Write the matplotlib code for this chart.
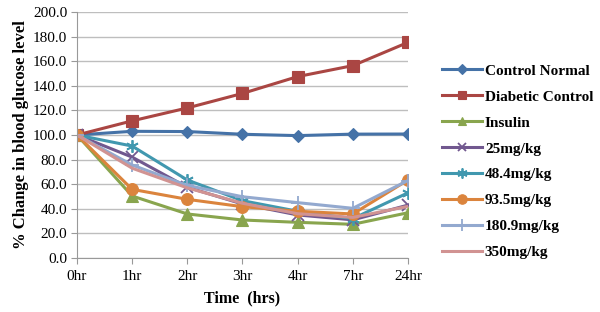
import matplotlib
matplotlib.use("Agg")
import matplotlib.pyplot as plt
import numpy as np

times = ["0hr", "1hr", "2hr", "3hr", "4hr", "7hr", "24hr"]
control_normal = [100, 103.0, 102.8, 100.6, 99.5, 100.7, 100.8]
diabetic_control = [100, 111.5, 122.0, 133.8, 147.5, 156.4, 175.3]
insulin = [100, 50.4, 35.8, 30.9, 29.0, 27.4, 36.8]
mg25 = [100, 82.0, 57.5, 43.9, 35.0, 31.0, 43.0]
mg48_4 = [100, 91.0, 63.4, 46.6, 38.0, 32.0, 53.0]
mg93_5 = [100, 55.8, 47.7, 41.7, 38.0, 35.8, 63.4]
mg180_9 = [100, 75.6, 59.0, 49.8, 45.0, 40.4, 63.0]
mg350 = [100, 73.0, 57.0, 44.5, 36.0, 33.0, 42.0]

series = [
    ("Control Normal", control_normal, "#4572A7", "D", 6.5),
    ("Diabetic Control", diabetic_control, "#AA4643", "s", 8),
    ("Insulin", insulin, "#89A54E", "^", 8),
    ("25mg/kg", mg25, "#71588F", "x", 8),
    ("48.4mg/kg", mg48_4, "#4198AF", (6, 2, 0), 9),
    ("93.5mg/kg", mg93_5, "#DB843D", "o", 8.5),
    ("180.9mg/kg", mg180_9, "#93A9CF", "+", 10),
    ("350mg/kg", mg350, "#D19392", "None", 0),
]

plt.rcParams['font.family'] = ['Liberation Serif', 'DejaVu Serif']

fig = plt.figure(figsize=(6, 3.12), dpi=100)
ax = fig.add_axes([77/600, 1-258/312, (408-77)/600, (258-12)/312])

x = np.arange(len(times))
for name, vals, col, mk, ms in series:
    ax.plot(x, vals, color=col, lw=2.2, marker=mk, markersize=ms,
            markeredgewidth=1.3 if mk in ("x", "+", (6, 2, 0)) else 0.8,
            markeredgecolor=col, markerfacecolor=col, label=name)

ax.set_xlim(0, len(times)-1)
ax.set_ylim(0, 200)
ax.set_yticks(np.arange(0, 201, 20))
ax.set_yticklabels([f"{v:.1f}" for v in np.arange(0, 201, 20)], fontsize=11)
ax.set_xticks(x)
ax.set_xticklabels(times, fontsize=11)
ax.grid(axis='y', color='#BEBEBE', lw=1)
ax.set_axisbelow(True)
for s in ["top", "right"]:
    ax.spines[s].set_visible(False)
for s in ["left", "bottom"]:
    ax.spines[s].set_color('#999999')
ax.tick_params(axis='both', color='#999999', length=4, pad=3)
ax.tick_params(axis='x', direction='out', pad=5)

ax.set_xlabel("Time  (hrs)", fontsize=11.5, fontweight='bold', labelpad=5)
ax.set_ylabel("% Change in blood glucose level", fontsize=12, fontweight='bold', labelpad=3)

fig.legend(loc='upper left', bbox_to_anchor=(436/600, 1-58/312), frameon=False,
           prop={'weight': 'bold', 'size': 11}, handlelength=2.6, handletextpad=0.2,
           labelspacing=0.8, borderaxespad=0, markerscale=0.8)

fig.savefig("out.png", dpi=100)
